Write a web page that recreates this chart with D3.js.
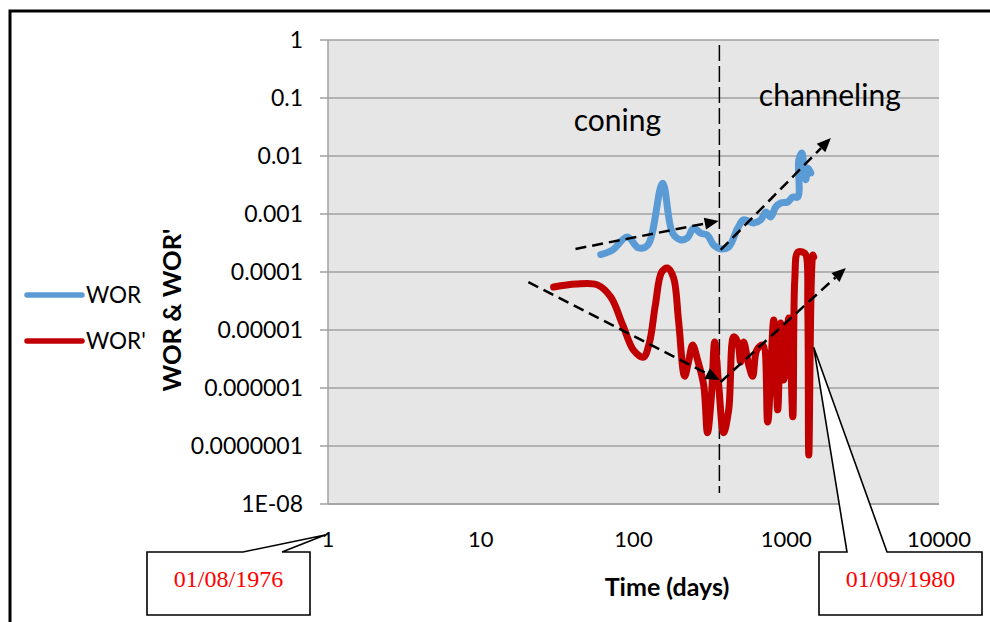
<!DOCTYPE html>
<html><head><meta charset="utf-8">
<script src="https://cdn.jsdelivr.net/npm/d3@7"></script>
<style>
html,body{margin:0;padding:0;background:#fff;}
svg{display:block;}
</style></head>
<body>
<svg id="c" width="990" height="622"></svg>
<script>
// ---- data ----
const worDays = [61,73,91,108,124,155,180,203,226,247,275,305,335,372,420,481,526,612,681,734,791,853,920,1023,1104,1190,1208,1264,1303,1343,1384,1448];
const worValues = [2.0e-4,2.4e-4,4.0e-4,2.6e-4,2.9e-4,3.4e-3,4.7e-4,3.6e-4,3.9e-4,5.7e-4,4.7e-4,4.3e-4,2.9e-4,2.5e-4,2.7e-4,5.7e-4,7.9e-4,7.0e-4,7.9e-4,1.08e-3,8.9e-4,1.32e-3,1.55e-3,1.61e-3,1.96e-3,1.96e-3,8.5e-3,1.13e-2,7.0e-3,3.9e-3,6.2e-3,5.1e-3];
const worpDays = [30,42,58,71,85,100,116,127,139,153,167,183,197,216,229,244,263,288,305,324,340,361,389,420,453,481,503,526,568,603,641,701,756,828,879,920,964,1038,1104,1137,1190,1283,1343,1384,1405,1493,1514];
const worpValues = [5.5e-5,6.2e-5,6.0e-5,3.7e-5,1.22e-5,4.5e-6,3.4e-6,6.0e-6,2.7e-5,1.0e-4,1.17e-4,7.9e-5,1.49e-5,1.6e-6,2.8e-6,5.5e-6,3.0e-6,1.13e-6,1.7e-7,7.6e-7,6.2e-6,1.13e-6,1.7e-7,4.2e-7,7.6e-6,6.2e-6,2.8e-6,6.2e-6,2.5e-6,1.6e-6,4.5e-6,5.5e-6,2.6e-7,1.49e-5,4.2e-7,1.32e-5,1.37e-6,1.61e-5,3.2e-7,7.3e-5,2.2e-4,2.2e-4,2.0e-4,2.2e-5,7.0e-8,1.96e-4,1.8e-4];
const yTickValues = [1,0.1,0.01,0.001,0.0001,0.00001,0.000001,0.0000001,0.00000001];
const yTickLabels = ["1","0.1","0.01","0.001","0.0001","0.00001","0.000001","0.0000001","1E-08"];
const xTickValues = [1,10,100,1000,10000];
const xTickLabels = ["1","10","100","1000","10000"];
const seriesNames = ["WOR","WOR'"];
const boundaryDay = 365;
// trend arrows [startDay, startVal, endDay, endVal]
const trendArrows = [
  [41.7, 2.5e-4, 361, 7.6e-4],
  [372, 2.4e-4, 1959, 0.0204],
  [20.5, 6.7e-5, 366, 1.37e-6],
  [372, 1.27e-6, 2455, 1.17e-4]
];
const regionLabels = [["coning", 78.5, 0.027], ["channeling", 1928, 0.0728]];
const dateLabels = ["01/08/1976","01/09/1980"];

// ---- drawing ----
const svg = d3.select("#c");
const x = d3.scaleLog().domain([1,10000]).range([328,939]);
const y = d3.scaleLog().domain([1e-8,1]).range([504,40]);
const F = "Lato, 'Open Sans', sans-serif";

// frame
svg.append("rect").attr("x",10).attr("y",11).attr("width",1000).attr("height",700)
  .attr("fill","none").attr("stroke","#000").attr("stroke-width",3);

// plot bg
svg.append("rect").attr("x",x(1)).attr("y",y(1)).attr("width",x(10000)-x(1)).attr("height",y(1e-8)-y(1))
  .attr("fill","#e6e6e6");

// gridlines
svg.append("g").selectAll("line").data(yTickValues).join("line")
  .attr("x1",x(1)-8).attr("x2",x(10000)).attr("y1",d=>y(d)).attr("y2",d=>y(d))
  .attr("stroke","#a0a0a0").attr("stroke-width",1.5);
// axes lines
svg.append("line").attr("x1",x(1)).attr("x2",x(1)).attr("y1",y(1)).attr("y2",y(1e-8))
  .attr("stroke","#a0a0a0").attr("stroke-width",1.5);
svg.append("line").attr("x1",x(1)).attr("x2",x(10000)).attr("y1",y(1e-8)).attr("y2",y(1e-8))
  .attr("stroke","#a0a0a0").attr("stroke-width",1.5);

// y tick labels
svg.append("g").selectAll("text").data(yTickValues).join("text")
  .attr("x",303).attr("y",d=>y(d)).attr("dy","0.35em").attr("text-anchor","end")
  .attr("font-family",F).attr("font-size",23).attr("fill","#000")
  .text((d,i)=>yTickLabels[i]);
// x tick labels
svg.append("g").selectAll("text").data(xTickValues).join("text")
  .attr("x",d=>x(d)).attr("y",547).attr("text-anchor","middle")
  .attr("font-family",F).attr("font-size",22).attr("fill","#000")
  .text((d,i)=>xTickLabels[i]);

// axis titles
svg.append("text").attr("x",667).attr("y",596).attr("text-anchor","middle")
  .attr("font-family",F).attr("font-weight","bold").attr("font-size",25).text("Time (days)");
svg.append("text").attr("transform","translate(181,310) rotate(-90)").attr("text-anchor","middle")
  .attr("font-family",F).attr("font-weight","bold").attr("font-size",25.5).text("WOR & WOR'");

// vertical boundary
svg.append("line").attr("x1",x(boundaryDay)).attr("x2",x(boundaryDay)).attr("y1",45).attr("y2",493)
  .attr("stroke","#000").attr("stroke-width",1.5).attr("stroke-dasharray","16,5");

// series lines
const line = d3.line().x(d=>x(d[0])).y(d=>y(d[1])).curve(d3.curveCatmullRom.alpha(0.5));
svg.append("path").datum(worpDays.map((d,i)=>[d,worpValues[i]]))
  .attr("d",line).attr("fill","none").attr("stroke","#c00000").attr("stroke-width",7)
  .attr("stroke-linejoin","round").attr("stroke-linecap","round");
svg.append("path").datum(worDays.map((d,i)=>[d,worValues[i]]))
  .attr("d",line).attr("fill","none").attr("stroke","#5b9bd5").attr("stroke-width",7)
  .attr("stroke-linejoin","round").attr("stroke-linecap","round");

// trend arrows
const ag = svg.append("g");
trendArrows.forEach(a=>{
  const x1=x(a[0]), y1=y(a[1]), x2=x(a[2]), y2=y(a[3]);
  const ang=Math.atan2(y2-y1,x2-x1), L=14, W=6;
  const bx=x2-L*Math.cos(ang), by=y2-L*Math.sin(ang);
  ag.append("line").attr("x1",x1).attr("y1",y1).attr("x2",bx).attr("y2",by)
    .attr("stroke","#000").attr("stroke-width",2.5).attr("stroke-dasharray","11,6");
  ag.append("path").attr("d",`M${x2},${y2}L${bx+W*Math.sin(ang)},${by-W*Math.cos(ang)}L${bx-W*Math.sin(ang)},${by+W*Math.cos(ang)}Z`)
    .attr("fill","#000");
});

// region labels
svg.append("g").selectAll("text").data(regionLabels).join("text")
  .attr("x",d=>x(d[1])).attr("y",d=>y(d[2])).attr("text-anchor","middle")
  .attr("font-family",F).attr("font-size",30).attr("fill","#000").text(d=>d[0]);

// legend
const lg = svg.append("g");
[["#5b9bd5",295],["#c00000",341]].forEach((c,i)=>{
  lg.append("line").attr("x1",27).attr("x2",82).attr("y1",c[1]).attr("y2",c[1])
    .attr("stroke",c[0]).attr("stroke-width",5.5).attr("stroke-linecap","round");
  lg.append("text").attr("x",86).attr("y",c[1]).attr("dy","0.36em")
    .attr("font-family",F).attr("font-size",22.5).text(seriesNames[i]);
});

// callouts
function callout(bx,by,bw,bh,w1,w2,tx,ty,label){
  const p=`M${bx},${by}L${w1},${by}L${tx},${ty}L${w2},${by}L${bx+bw},${by}L${bx+bw},${by+bh}L${bx},${by+bh}Z`;
  svg.append("path").attr("d",p).attr("fill","#fff").attr("stroke","#000").attr("stroke-width",1.6).attr("stroke-linejoin","miter");
  svg.append("text").attr("x",bx+bw/2).attr("y",by+35).attr("text-anchor","middle")
    .attr("font-family","'Liberation Serif','Times New Roman',serif").attr("font-size",24).attr("fill","#ff0000").text(label);
}
callout(147,552,163,63,243,282,x(1)-3,535,dateLabels[0]);
callout(819,552,163,63,847,887,x(1514),y(5e-6),dateLabels[1]);
</script>
</body></html>
